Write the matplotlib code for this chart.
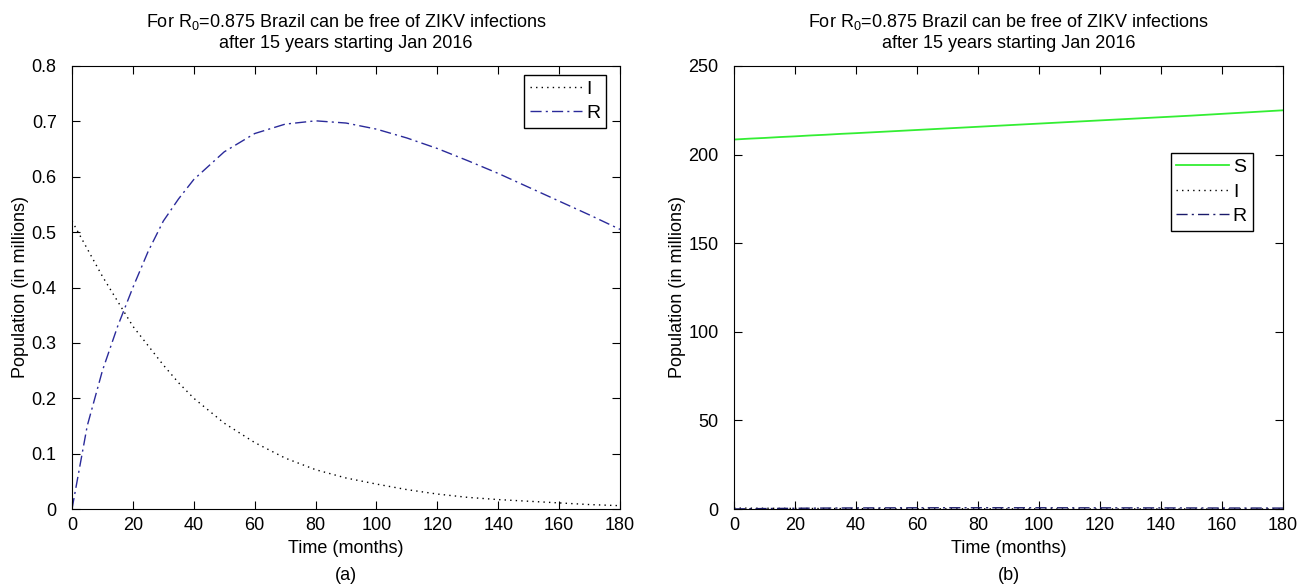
import numpy as np
import matplotlib.pyplot as plt

plt.rcParams['font.family'] = ['Liberation Sans', 'DejaVu Sans']
plt.rcParams['mathtext.fontset'] = 'custom'
plt.rcParams['mathtext.rm'] = 'Liberation Sans'

# values (months, millions)
t = [0, 5, 10, 15, 20, 25, 30, 35, 40, 50, 60, 70, 80, 90, 100, 110, 120, 130, 140, 150, 160, 170, 180]
I = [0.52, 0.47, 0.42, 0.375, 0.33, 0.295, 0.26, 0.228, 0.20, 0.155, 0.12, 0.092, 0.071, 0.056,
     0.045, 0.035, 0.027, 0.021, 0.017, 0.014, 0.011, 0.008, 0.006]
R = [0.0, 0.15, 0.25, 0.33, 0.40, 0.465, 0.52, 0.56, 0.595, 0.645, 0.678, 0.695, 0.701, 0.697,
     0.686, 0.67, 0.651, 0.629, 0.606, 0.581, 0.556, 0.531, 0.505]
S = [208.5, 209.0, 209.4, 209.9, 210.3, 210.8, 211.2, 211.7, 212.1, 213.0, 213.9, 214.8, 215.7,
     216.6, 217.5, 218.4, 219.3, 220.2, 221.1, 222.0, 223.0, 224.0, 225.0]

title = 'For R$_0$=0.875 Brazil can be free of ZIKV infections\nafter 15 years starting Jan 2016'
fs = 13

fig = plt.figure(figsize=(13.06, 5.86), dpi=100)
W, H = 1306, 586
ax1 = fig.add_axes([72 / W, 1 - 509 / H, (620 - 72) / W, (509 - 66) / H])
ax2 = fig.add_axes([734 / W, 1 - 509 / H, (1283 - 734) / W, (509 - 66) / H])

dot = (0, (1, 3))
dashdot = (0, (8, 3, 1.5, 3))

# (a)
ax1.plot(t, I, color='black', ls=dot, lw=1, label='I')
ax1.plot(t, R, color='#2a2a9a', ls=dashdot, lw=1, label='R')
ax1.set_ylim(0, 0.8)
ax1.set_yticks(np.arange(0, 0.81, 0.1))
ax1.set_yticklabels(['0', '0.1', '0.2', '0.3', '0.4', '0.5', '0.6', '0.7', '0.8'])
ax1.legend(loc='upper right', bbox_to_anchor=(0.975, 0.98), borderaxespad=0,
           fontsize=fs + 1, handlelength=2.7,
           fancybox=False, edgecolor='black', framealpha=1,
           handletextpad=0.2, labelspacing=0.3, borderpad=0.3)

# (b)
ax2.plot(t, S, color='#33ee33', ls='-', lw=1.3, label='S')
ax2.plot(t, I, color='black', ls=dot, lw=1, label='I')
ax2.plot(t, R, color='#1a1a6a', ls=dashdot, lw=1, label='R')
ax2.set_ylim(0, 250)
ax2.set_yticks(np.arange(0, 251, 50))
ax2.legend(loc='upper right', bbox_to_anchor=(0.945, 0.804), borderaxespad=0,
           fontsize=fs + 1, handlelength=2.7,
           fancybox=False, edgecolor='black', framealpha=1,
           handletextpad=0.2, labelspacing=0.35, borderpad=0.3)

for ax, tag in ((ax1, '(a)'), (ax2, '(b)')):
    ax.set_xlim(0, 180)
    ax.set_xticks(np.arange(0, 181, 20))
    ax.tick_params(direction='in', top=True, right=True, labelsize=fs, length=6, width=0.8)
    ax.tick_params(axis='x', pad=6)
    ax.tick_params(axis='y', pad=11)
    ax.set_xlabel('Time (months)', fontsize=fs, labelpad=4)
    ax.set_ylabel('Population (in millions)', fontsize=fs, labelpad=2)
    ax.set_title(title, fontsize=fs, pad=13, linespacing=1.25)
    for s in ax.spines.values():
        s.set_linewidth(0.8)
    ax.text(0.5, -0.132, tag, transform=ax.transAxes, ha='center', va='top', fontsize=fs)

fig.savefig('out.png', dpi=100)
